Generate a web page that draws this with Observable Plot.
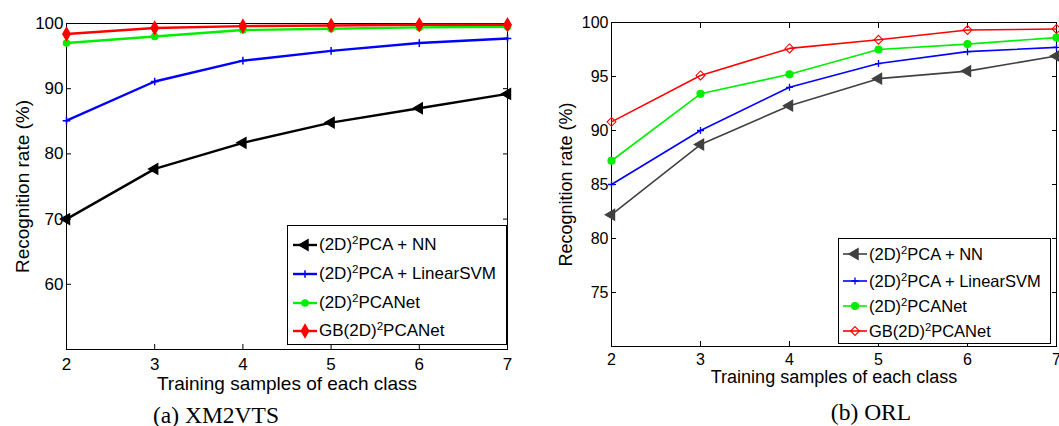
<!DOCTYPE html>
<html>
<head>
<meta charset="utf-8">
<script src="https://cdn.jsdelivr.net/npm/d3@7"></script>
<script src="https://cdn.jsdelivr.net/npm/@observablehq/plot@0.6"></script>
<style>
  html, body { margin: 0; padding: 0; background: #fff; }
  #wrap { position: relative; width: 1059px; height: 426px; overflow: hidden; font-family: "Liberation Sans", Arial, sans-serif; }
  .panel { position: absolute; top: 0; }
  .legend { position: absolute; background: #fff; border: 1px solid #000; box-sizing: border-box; }
  .legend .row { position: absolute; left: 0; display: flex; align-items: center; white-space: nowrap; color: #000; }
  .legend sup { font-size: 0.68em; vertical-align: 0.55em; line-height: 0; }
  .caption { position: absolute; font-family: "Liberation Serif", "DejaVu Serif", serif; font-size: 23.5px; color: #000; white-space: nowrap; transform: translate(-50%, -50%); }
</style>
</head>
<body>
<div id="wrap"></div>
<script>
// ---- data ----
const samples = [2, 3, 4, 5, 6, 7];
const seriesNames = ["(2D)2PCA + NN", "(2D)2PCA + LinearSVM", "(2D)2PCANet", "GB(2D)2PCANet"];
const legendHtml = ["(2D)<sup>2</sup>PCA + NN", "(2D)<sup>2</sup>PCA + LinearSVM", "(2D)<sup>2</sup>PCANet", "GB(2D)<sup>2</sup>PCANet"];

// (a) XM2VTS
const xmNN  = [70.0, 77.7, 81.7, 84.8, 87.0, 89.2];
const xmSVM = [85.1, 91.1, 94.3, 95.8, 97.0, 97.7];
const xmNet = [97.0, 98.0, 99.0, 99.2, 99.4, 99.5];
const xmGB  = [98.4, 99.3, 99.6, 99.7, 99.8, 99.8];
const xmYTicks = [60, 70, 80, 90, 100];

// (b) ORL
const orlNN  = [82.2, 88.7, 92.3, 94.8, 95.5, 96.9];
const orlSVM = [85.0, 90.0, 94.0, 96.2, 97.3, 97.7];
const orlNet = [87.2, 93.4, 95.2, 97.5, 98.0, 98.6];
const orlGB  = [90.8, 95.1, 97.6, 98.4, 99.3, 99.4];
const orlYTicks = [75, 80, 85, 90, 95, 100];

const xLabel = "Training samples of each class";
const yLabel = "Recognition rate (%)";

const symbolMap = {triangle: d3.symbolTriangle, plus: d3.symbolPlus, circle: d3.symbolCircle, diamond: d3.symbolDiamond, diamond2: d3.symbolDiamond2};

function rows(arrs) {
  const out = [];
  arrs.forEach((vals, i) => vals.forEach((v, j) => out.push({series: seriesNames[i], x: samples[j], y: v})));
  return out;
}

function makePanel(cfg) {
  const data = rows(cfg.values);
  const fmt = d3.format("d");
  const marks = [
    Plot.frame({stroke: "#000", strokeWidth: 1}),
    // inward tick marks on all four sides
    Plot.axisX({anchor: "bottom", ticks: samples, tickSize: -5, tickFormat: () => "", label: null}),
    Plot.axisX({anchor: "top", ticks: samples, tickSize: -5, tickFormat: () => "", label: null}),
    Plot.axisY({anchor: "left", ticks: cfg.yTicks, tickSize: -5, tickFormat: () => "", label: null}),
    Plot.axisY({anchor: "right", ticks: cfg.yTicks, tickSize: -5, tickFormat: () => "", label: null}),
    // tick labels
    Plot.axisX({anchor: "bottom", ticks: samples, tickSize: 0, tickPadding: cfg.xPad, tickFormat: fmt, label: null, fontSize: cfg.tickFont}),
    Plot.axisY({anchor: "left", ticks: cfg.yTicks, tickSize: 0, tickPadding: 3, tickFormat: fmt, label: null, fontSize: cfg.tickFont}),
    Plot.text([xLabel], {frameAnchor: "bottom", textAnchor: "middle", lineAnchor: "middle", dy: cfg.xLabelDy, fontSize: cfg.labelFont, fill: "#000"}),
    Plot.text([yLabel], {frameAnchor: "left", textAnchor: "middle", lineAnchor: "middle", rotate: -90, dx: cfg.yLabelDx, fontSize: cfg.labelFont, fill: "#000"})
  ];
  cfg.styles.forEach((s, i) => {
    const d = data.filter(r => r.series === seriesNames[i]);
    marks.push(Plot.line(d, {x: "x", y: "y", stroke: s.color, strokeWidth: cfg.lineWidth}));
    marks.push(Plot.dot(d, {x: "x", y: "y", symbol: s.symbol, r: s.r, rotate: s.rotate || 0,
      fill: s.fill, stroke: s.color, strokeWidth: s.sw || 1.2}));
  });
  return Plot.plot({
    width: cfg.width, height: cfg.height,
    marginLeft: cfg.ml, marginRight: cfg.mr, marginTop: cfg.mt, marginBottom: cfg.mb,
    x: {type: "linear", domain: [2, 7]},
    y: {type: "linear", domain: cfg.yDomain},
    style: {fontFamily: "'Liberation Sans', Arial, sans-serif", color: "#000", background: "transparent", overflow: "visible"},
    marks
  });
}

function makeLegend(cfg) {
  const lg = document.createElement("div");
  lg.className = "legend";
  Object.assign(lg.style, {left: cfg.left + "px", top: cfg.top + "px", width: cfg.width + "px", height: cfg.height + "px"});
  cfg.styles.forEach((s, i) => {
    const row = document.createElement("div");
    row.className = "row";
    row.style.top = (cfg.rowY[i] - cfg.top - 1 - cfg.rowH / 2) + "px";
    row.style.height = cfg.rowH + "px";
    row.style.fontSize = cfg.font + "px";
    const sw = cfg.sampleW;
    const svg = d3.create("svg").attr("width", sw + cfg.sampleX).attr("height", cfg.rowH);
    svg.append("line").attr("x1", cfg.sampleX).attr("x2", cfg.sampleX + sw).attr("y1", cfg.rowH / 2).attr("y2", cfg.rowH / 2)
      .attr("stroke", s.color).attr("stroke-width", cfg.lineWidth);
    const sym = d3.symbol(symbolMap[s.symbol], Math.PI * s.r * s.r);
    svg.append("path").attr("d", sym())
      .attr("transform", `translate(${cfg.sampleX + sw / 2},${cfg.rowH / 2}) rotate(${s.rotate || 0})`)
      .attr("fill", s.fill).attr("stroke", s.color).attr("stroke-width", s.sw || 1.2);
    row.appendChild(svg.node());
    const t = document.createElement("span");
    t.innerHTML = legendHtml[i];
    t.style.marginLeft = "2px";
    row.appendChild(t);
    lg.appendChild(row);
  });
  return lg;
}

const wrap = document.getElementById("wrap");

const stylesA = [
  {color: "#000000", symbol: "triangle", rotate: -90, r: 4, fill: "#000000"},
  {color: "#0000ff", symbol: "plus", r: 2.6, fill: "none", sw: 1.5},
  {color: "#00ee00", symbol: "circle", r: 3.2, fill: "#00ee00"},
  {color: "#ff0000", symbol: "diamond", r: 4, fill: "#ff0000"}
];
const stylesB = [
  {color: "#404040", symbol: "triangle", rotate: -90, r: 4, fill: "#404040"},
  {color: "#0000ff", symbol: "plus", r: 2.4, fill: "none", sw: 1.3},
  {color: "#00ee00", symbol: "circle", r: 3.5, fill: "#00ee00"},
  {color: "#ff0000", symbol: "diamond2", r: 4, fill: "none", sw: 1.1}
];

const pa = makePanel({
  values: [xmNN, xmSVM, xmNet, xmGB], styles: stylesA, yDomain: [50, 100], yTicks: xmYTicks,
  width: 530, height: 400, ml: 66, mr: 23, mt: 23, mb: 51,
  tickFont: 17, labelFont: 19, xPad: 8, xLabelDy: 34, yLabelDx: -44, lineWidth: 2.4
});
pa.classList.add("panel");
pa.style.left = "0px";
wrap.appendChild(pa);

const pb = makePanel({
  values: [orlNN, orlSVM, orlNet, orlGB], styles: stylesB, yDomain: [70, 100], yTicks: orlYTicks,
  width: 519, height: 400, ml: 71, mr: 3, mt: 22, mb: 54,
  tickFont: 16, labelFont: 18, xPad: 7, xLabelDy: 31, yLabelDx: -45, lineWidth: 1.6
});
pb.classList.add("panel");
pb.style.left = "540px";
wrap.appendChild(pb);

wrap.appendChild(makeLegend({styles: stylesA, left: 287, top: 225, width: 220, height: 120,
  rowY: [245, 274, 303, 331], rowH: 26, font: 17, sampleX: 5, sampleW: 24, lineWidth: 2.4}));
wrap.appendChild(makeLegend({styles: stylesB, left: 838, top: 238, width: 213, height: 106,
  rowY: [254, 281, 306, 331], rowH: 24, font: 16.5, sampleX: 4, sampleW: 24, lineWidth: 1.6}));

const capA = document.createElement("div");
capA.className = "caption"; capA.textContent = "(a) XM2VTS";
capA.style.left = "216px"; capA.style.top = "415px";
wrap.appendChild(capA);
const capB = document.createElement("div");
capB.className = "caption"; capB.textContent = "(b) ORL";
capB.style.left = "871px"; capB.style.top = "412px";
wrap.appendChild(capB);
</script>
</body>
</html>
